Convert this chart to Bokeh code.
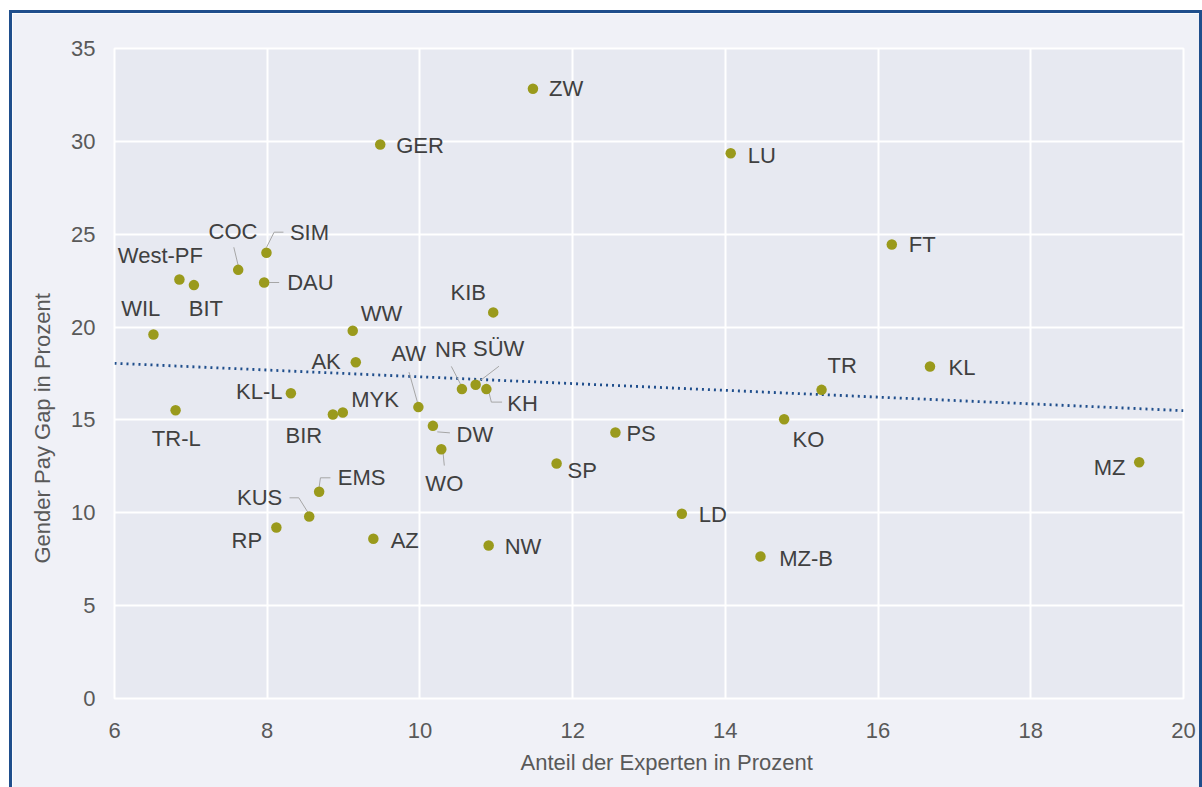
from bokeh.plotting import figure
from bokeh.layouts import column
from bokeh.models import ColumnDataSource, Range1d, FixedTicker, Title
from bokeh.embed import file_html
from bokeh.resources import INLINE
from bokeh.core.properties import value

# ---------------- data ----------------
names = ["ZW", "GER", "LU", "FT", "SIM", "COC", "West-PF", "BIT", "DAU", "KIB",
         "WIL", "WW", "AK", "KL", "TR", "KL-L", "NR", "SÜW", "KH", "AW",
         "TR-L", "BIR", "MYK", "KO", "DW", "PS", "WO", "SP", "MZ", "EMS",
         "LD", "KUS", "RP", "AZ", "NW", "MZ-B"]
anteil = [11.48, 9.48, 14.07, 16.18, 7.99, 7.62, 6.85, 7.04, 7.96, 10.96,
          6.51, 9.12, 9.16, 16.68, 15.26, 8.31, 10.55, 10.73, 10.87, 9.98,
          6.80, 8.86, 8.99, 14.77, 10.17, 12.56, 10.28, 11.79, 19.42, 8.68,
          13.43, 8.55, 8.12, 9.39, 10.90, 14.46]
gap = [32.83, 29.83, 29.36, 24.45, 24.00, 23.08, 22.56, 22.26, 22.40, 20.79,
       19.60, 19.80, 18.11, 17.88, 16.62, 16.44, 16.66, 16.89, 16.66, 15.69,
       15.52, 15.29, 15.40, 15.04, 14.68, 14.32, 13.42, 12.65, 12.72, 11.13,
       9.95, 9.80, 9.21, 8.60, 8.24, 7.65]
trend_x = [6, 20]
trend_y = [18.05, 15.5]
x_ticks = [6, 8, 10, 12, 14, 16, 18, 20]
y_ticks = [0, 5, 10, 15, 20, 25, 30, 35]
x_title = "Anteil der Experten in Prozent"
y_title = "Gender Pay Gap in Prozent"

# ---------------- layout / style ----------------
W, H = 1187, 774
ML, MR, MT, MB = 102, 16, 35, 89
X0, X1, Y0, Y1 = 6, 20, 0, 35
SX = (W - ML - MR) / (X1 - X0)   # px per x unit
SY = (H - MT - MB) / (Y1 - Y0)   # px per y unit

FONT = "Liberation Sans"
BG_OUT = "#f0f1f7"
BG_IN = "#e7e9f1"
PT_COLOR = "#9a9a1c"
LBL_COLOR = "#404040"
AX_COLOR = "#595959"
TREND_COLOR = "#1f4e8c"
LEADER_COLOR = "#a6a6a6"
BORDER = "3px solid #1f4e8c"

# label placement: pixel offset (dx right, dy down) from the point, alignment
LABEL_POS = {
    "ZW": (16, 0, "left"), "GER": (16, 1, "left"), "LU": (17, 2, "left"),
    "FT": (17, 0, "left"), "SIM": (23.5, -20.3, "left"),
    "COC": (-5.2, -38.8, "center"), "West-PF": (-19, -24, "center"),
    "BIT": (12, 23, "center"), "DAU": (23, 0, "left"),
    "KIB": (-25, -20, "center"), "WIL": (-12.7, -26, "center"),
    "WW": (8, -17, "left"), "AK": (-15, -1, "right"), "KL": (18.6, 0.7, "left"),
    "TR": (6, -24, "left"), "KL-L": (-8.3, -1.7, "right"),
    "NR": (-11, -40, "center"), "SÜW": (23, -36, "center"),
    "KH": (21, 14, "left"), "AW": (-9.7, -53.3, "center"),
    "TR-L": (0.7, 28.3, "center"), "BIR": (-29, 21, "center"),
    "MYK": (8.4, -12.7, "left"), "KO": (24.3, 20.6, "center"),
    "DW": (23.7, 9, "left"), "PS": (11, 1, "left"), "WO": (3, 34.6, "center"),
    "SP": (11, 7, "left"), "MZ": (-13.7, 5, "right"),
    "EMS": (18.6, -14.6, "left"), "LD": (17, 1, "left"),
    "KUS": (-27, -18.7, "right"), "RP": (-14.3, 13, "right"),
    "AZ": (17.3, 1.7, "left"), "NW": (16, 1, "left"), "MZ-B": (18.7, 2.3, "left"),
}
# leader lines: pixel offsets from the point
LEADERS = {
    "SIM": [(0, -5.3), (7.7, -20.6), (17, -20.6)],
    "COC": [(0, -4.3), (-4.4, -22.6)],
    "DAU": [(5, 0), (15, 0)],
    "AW": [(-1, -5), (-9.4, -35)],
    "NR": [(-1.3, -4.7), (-10.6, -22.7)],
    "SÜW": [(3.3, -3.3), (23.3, -18.6)],
    "KH": [(2.3, 2), (5, 13), (15.7, 13)],
    "DW": [(4.4, 6), (17, 7)],
    "WO": [(1.7, 3), (3, 16.3)],
    "EMS": [(0, -4.6), (1.3, -14), (11.3, -14)],
    "KUS": [(-1.4, -4.3), (-10.4, -18.7), (-19.7, -18.7)],
}

p = figure(width=W, height=H, output_backend="svg", toolbar_location=None,
           x_range=Range1d(X0, X1), y_range=Range1d(Y0, Y1),
           min_border_left=ML, min_border_right=MR,
           min_border_top=MT, min_border_bottom=MB)
p.background_fill_color = BG_IN
p.border_fill_color = BG_OUT
p.outline_line_color = "white"
p.outline_line_width = 2

p.xaxis.ticker = FixedTicker(ticks=x_ticks)
p.yaxis.ticker = FixedTicker(ticks=y_ticks)
for ax in (p.xaxis[0], p.yaxis[0]):
    ax.axis_line_color = None
    ax.major_tick_line_color = None
    ax.minor_tick_line_color = None
    ax.major_tick_out = 0
    ax.major_tick_in = 0
    ax.major_label_text_font = FONT
    ax.major_label_text_font_size = "22px"
    ax.major_label_text_color = AX_COLOR
p.xaxis.major_label_standoff = 24
p.yaxis.major_label_standoff = 19

p.grid.grid_line_color = "white"
p.grid.grid_line_width = 2

# axis titles (off-centre, as in the reference)
p.add_layout(Title(text=x_title, align="left", offset=406, standoff=15,
                   text_font=FONT, text_font_size="22px",
                   text_font_style="normal", text_color=AX_COLOR), "below")
p.add_layout(Title(text=y_title, align="left", offset=135, standoff=28,
                   text_font=FONT, text_font_size="22px",
                   text_font_style="normal", text_color=AX_COLOR), "left")

# trend line
p.line(trend_x, trend_y, line_color=TREND_COLOR, line_width=2.8,
       line_dash="2 4")

# leader lines
lxs, lys = [], []
for n, pts in LEADERS.items():
    i = names.index(n)
    lxs.append([anteil[i] + dx / SX for dx, dy in pts])
    lys.append([gap[i] - dy / SY for dx, dy in pts])
p.multi_line(lxs, lys, line_color=LEADER_COLOR, line_width=1)

# points
p.scatter(anteil, gap, size=10.5, fill_color=PT_COLOR, line_color=None)

# labels
lab = ColumnDataSource(dict(
    x=[anteil[i] + LABEL_POS[n][0] / SX for i, n in enumerate(names)],
    y=[gap[i] - LABEL_POS[n][1] / SY for i, n in enumerate(names)],
    t=names,
    a=[LABEL_POS[n][2] for n in names],
))
p.text(x="x", y="y", text="t", text_align="a", text_baseline="middle",
       text_font=value(FONT), text_font_size="22px", text_color=LBL_COLOR,
       source=lab)

layout = column(p, styles={"margin-left": "9px", "margin-top": "10px",
                           "border-top": BORDER, "border-left": BORDER,
                           "border-right": BORDER})

open("out.html", "w").write(file_html(layout, INLINE))
